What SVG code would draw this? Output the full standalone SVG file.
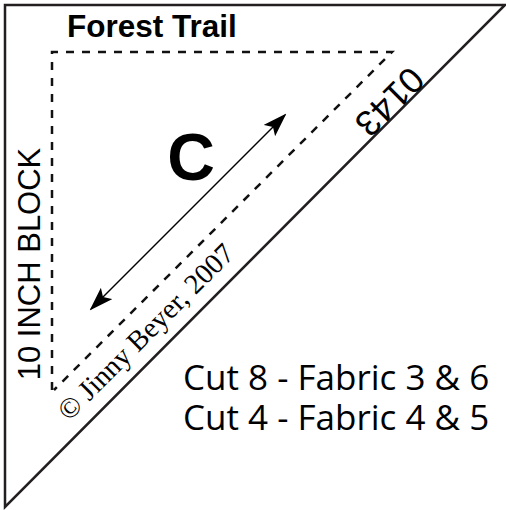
<svg xmlns="http://www.w3.org/2000/svg" width="506" height="510" viewBox="0 0 506 510">
<defs>
<style>
.outer{fill:none;stroke:#231f20;stroke-width:2.5;stroke-linejoin:miter}
.dash{fill:none;stroke:#111;stroke-width:2.5;stroke-dasharray:8 8}
.arrow{stroke:#000;stroke-width:1.5;fill:none}
.title{font-family:"Liberation Sans",Arial,sans-serif;font-weight:bold;fill:#000}
.sans{font-family:"Liberation Sans",Arial,sans-serif;fill:#000}
.cut{font-family:"Open Sans","DejaVu Sans",sans-serif;fill:#000}
.serif{font-family:"Liberation Serif","Times New Roman",serif;fill:#000}
</style>
<marker id="ah" viewBox="0 0 24 16" refX="22" refY="8" markerWidth="24" markerHeight="16" markerUnits="userSpaceOnUse" orient="auto-start-reverse">
<path d="M0,0 L24,8 L0,16 L5,8 Z" fill="#000"/>
</marker>
</defs>
<g id="outline">
<polygon class="outer" points="5,5 505,5 5,507"/>
</g>
<g id="seam">
<polyline class="dash" points="52,390 52,52 392,52 54,390"/>
</g>
<g id="connectors">
<line class="arrow" x1="91" y1="309" x2="285" y2="115" marker-start="url(#ah)" marker-end="url(#ah)"/>
</g>
<g id="labels">
<text class="title" x="67" y="37" font-size="31.5">Forest Trail</text>
<text class="title" x="191" y="180" font-size="66" text-anchor="middle">C</text>
<text class="sans" font-size="31" text-anchor="middle" transform="translate(40,264) rotate(-90)">10 INCH BLOCK</text>
<text class="sans" font-size="36" text-anchor="middle" transform="translate(381,93) rotate(135)">0143</text>
<text class="serif" font-size="28.5" transform="translate(69,422) rotate(-45)">© Jinny Beyer, 2007</text>
<text class="cut" x="183" y="390" font-size="35">Cut 8 - Fabric 3 &amp; 6</text>
<text class="cut" x="183" y="430" font-size="35">Cut 4 - Fabric 4 &amp; 5</text>
</g>
</svg>
